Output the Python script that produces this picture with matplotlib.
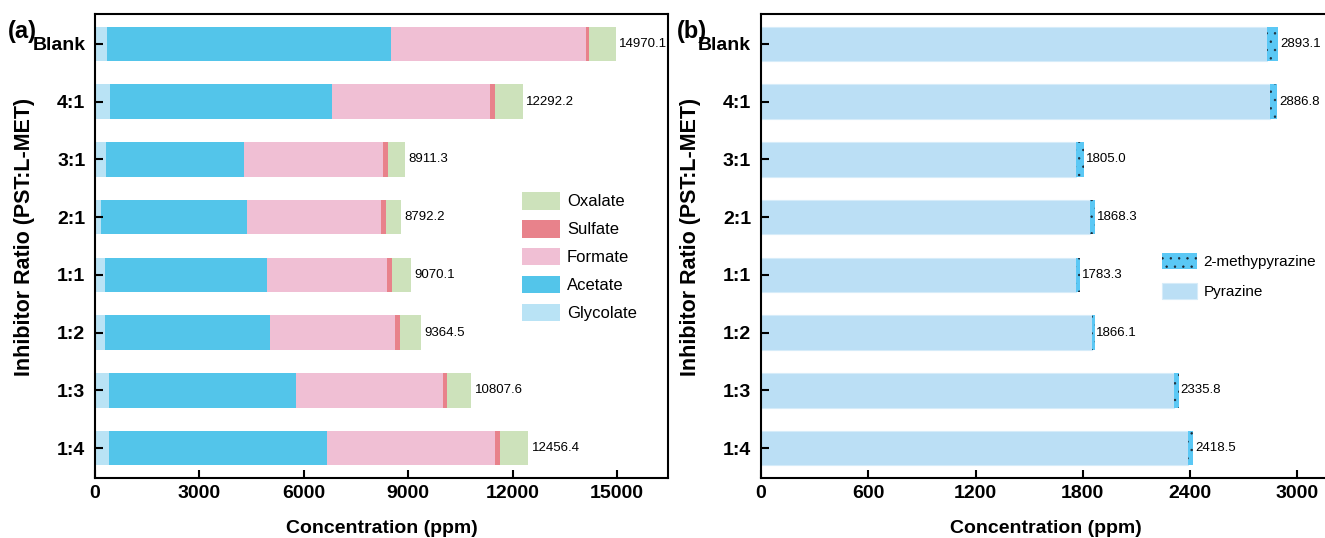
import matplotlib.pyplot as plt
import numpy as np

plt.rcParams['font.family'] = ['Liberation Sans', 'DejaVu Sans']
plt.rcParams['hatch.linewidth'] = 0.5

ratios = ['Blank', '4:1', '3:1', '2:1', '1:1', '1:2', '1:3', '1:4']

# panel (a): cumulative bar ends, converted to segment sizes
glycolate = [345, 426, 316, 172, 287, 287, 390, 400]
acetate_end = [8520, 6810, 4282, 4368, 4943, 5029, 5770, 6670]
formate_end = [14105, 11348, 8276, 8218, 8391, 8621, 9990, 11510]
sulfate_end = [14190, 11494, 8420, 8362, 8535, 8764, 10120, 11640]
totals_a = [14970.1, 12292.2, 8911.3, 8792.2, 9070.1, 9364.5, 10807.6, 12456.4]

acetate = [a - g for a, g in zip(acetate_end, glycolate)]
formate = [f - a for f, a in zip(formate_end, acetate_end)]
sulfate = [s - f for s, f in zip(sulfate_end, formate_end)]
oxalate = [t - s for t, s in zip(totals_a, sulfate_end)]

# panel (b)
totals_b = [2893.1, 2886.8, 1805.0, 1868.3, 1783.3, 1866.1, 2335.8, 2418.5]
methyl = [61, 41, 41, 30, 21, 13, 28, 30]
pyrazine = [t - m for t, m in zip(totals_b, methyl)]

fig = plt.figure(figsize=(13.25, 5.38), dpi=100)
ax1 = fig.add_axes([0.0717, 0.1115, 0.4325, 0.8625])
ax2 = fig.add_axes([0.5743, 0.1115, 0.43, 0.8625])

y = np.arange(len(ratios))
h = 0.6

segs = [('Glycolate', glycolate, '#b9e3f5'),
        ('Acetate', acetate, '#53c5ea'),
        ('Formate', formate, '#f0bfd4'),
        ('Sulfate', sulfate, '#e8828b'),
        ('Oxalate', oxalate, '#cde2bb')]
left = np.zeros(len(ratios))
for name, vals, col in segs:
    ax1.barh(y, vals, height=h, left=left, color=col, label=name)
    left = left + np.array(vals)
for yi, t in zip(y, totals_a):
    ax1.text(t + 100, yi, '%.1f' % t, va='center', ha='left', fontsize=9.5)

ax1.set_xlim(0, 16470)
ax1.set_xticks([0, 3000, 6000, 9000, 12000, 15000])
handles, labels = ax1.get_legend_handles_labels()
ax1.legend(handles[::-1], labels[::-1], loc='center left', bbox_to_anchor=(0.719, 0.477),
           frameon=False, fontsize=12, handlelength=2.3, handleheight=1.25,
           labelspacing=0.62, handletextpad=0.4)

ax2.barh(y, pyrazine, height=h, color='#bbdff5', edgecolor='#d6ecf9', linewidth=0.8,
         label='Pyrazine')
ax2.barh(y, methyl, height=h, left=pyrazine, color='#5bc8f5', hatch='..',
         edgecolor='#1e2a36', linewidth=0, label='2-methypyrazine')
for yi, t in zip(y, totals_b):
    ax2.text(t + 10, yi, '%.1f' % t, va='center', ha='left', fontsize=9.5)
ax2.set_xlim(0, 3186)
ax2.set_xticks([0, 600, 1200, 1800, 2400, 3000])
handles, labels = ax2.get_legend_handles_labels()
ax2.legend(handles[::-1], labels[::-1], loc='center left', bbox_to_anchor=(0.68, 0.435),
           frameon=False, fontsize=11, handlelength=2.3, handleheight=1.2,
           labelspacing=0.92, handletextpad=0.4)

for ax in (ax1, ax2):
    ax.set_ylim(7.52, -0.52)
    ax.set_yticks(y)
    ax.set_yticklabels(ratios, fontsize=14, fontweight='bold')
    for lab in ax.get_xticklabels():
        lab.set_fontsize(14)
        lab.set_fontweight('bold')
    ax.tick_params(axis='both', direction='in', length=6, width=1.5)
    ax.tick_params(axis='y', pad=7)
    ax.tick_params(axis='x', pad=5)
    for sp in ax.spines.values():
        sp.set_linewidth(1.5)
    ax.set_xlabel('Concentration (ppm)', fontsize=14, fontweight='bold', labelpad=13)
    ax.set_ylabel('Inhibitor Ratio (PST:L-MET)', fontsize=15.5, fontweight='bold')
    ax.yaxis.set_label_coords(-0.105, 0.52)

fig.text(0.006, 0.93, '(a)', fontsize=17, fontweight='bold')
fig.text(0.511, 0.93, '(b)', fontsize=17, fontweight='bold')

plt.savefig('out.png')
